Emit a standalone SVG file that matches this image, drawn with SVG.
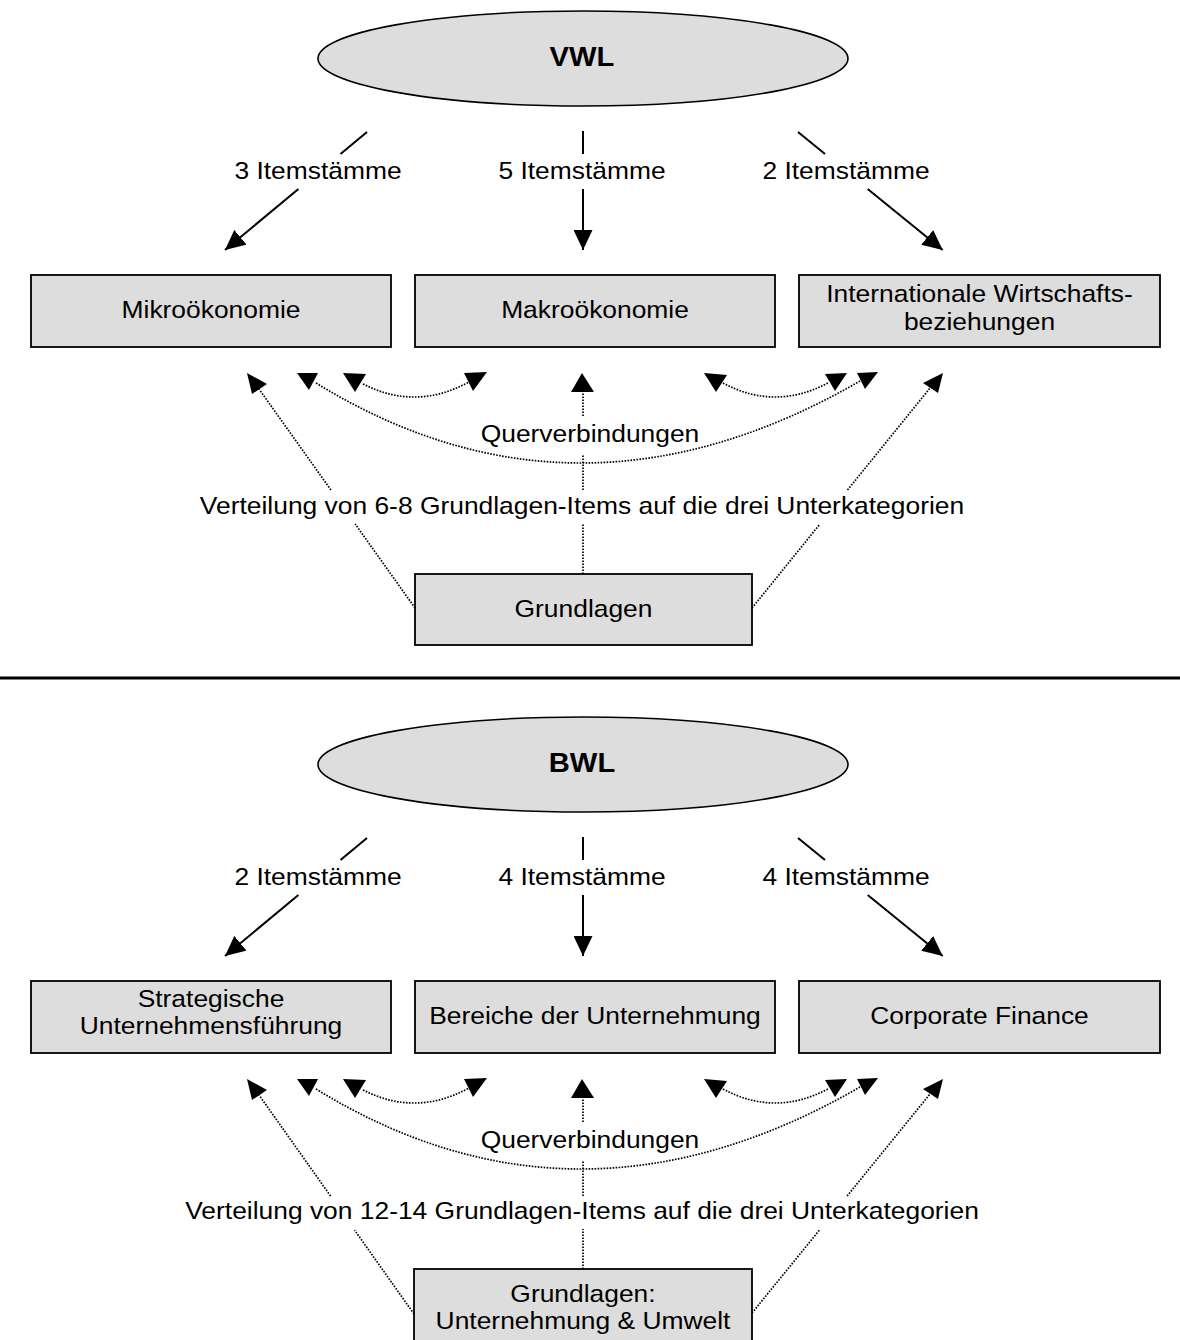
<svg xmlns="http://www.w3.org/2000/svg" width="1180" height="1340" viewBox="0 0 1180 1340">
<style>
.box{fill:#dddddd;stroke:#000;stroke-width:1.8}
.ell{fill:#dddddd;stroke:#000;stroke-width:1.6}
.t{font-family:"Liberation Sans",Arial,Helvetica,sans-serif;font-size:24px;fill:#000;text-anchor:middle}
.tb{font-family:"Liberation Sans",Arial,Helvetica,sans-serif;font-size:27px;font-weight:bold;fill:#000;text-anchor:middle}
.solid{stroke:#000;stroke-width:2;fill:none}
.dot{stroke:#000;stroke-width:1.7;stroke-dasharray:1.6 1.4;fill:none}
.head{fill:#000;stroke:none}
</style>
<defs>
<marker id="arr" markerUnits="userSpaceOnUse" markerWidth="21" markerHeight="19" refX="20" refY="9.5" orient="auto">
<path d="M0,0 L20,9.5 L0,19 Z" fill="#000"/>
</marker>
</defs>
<rect x="0" y="0" width="1180" height="1340" fill="#fff"/>

<!-- ===== VWL section ===== -->
<g id="vwl">
<ellipse class="ell" cx="583" cy="58.5" rx="265" ry="47.5"/>
<text class="tb" transform="translate(582,66) scale(1.08,1)">VWL</text>
</g>
<g id="mikro">
<rect class="box" x="31" y="275" width="360" height="72"/>
<text class="t" transform="translate(211,318) scale(1.1,1)">Mikroökonomie</text>
</g>
<g id="makro">
<rect class="box" x="415" y="275" width="360" height="72"/>
<text class="t" transform="translate(595,318) scale(1.1,1)">Makroökonomie</text>
</g>
<g id="intl">
<rect class="box" x="799" y="275" width="361" height="72"/>
<text class="t" transform="translate(979.5,302) scale(1.1,1)">Internationale Wirtschafts-</text>
<text class="t" transform="translate(979.5,330) scale(1.1,1)">beziehungen</text>
</g>
<g id="grundlagen-vwl">
<rect class="box" x="415" y="574" width="337" height="71"/>
<text class="t" transform="translate(583.5,617) scale(1.1,1)">Grundlagen</text>
</g>

<g id="connectors-vwl">
<line class="solid" x1="367" y1="132" x2="340.5" y2="154"/>
<line class="solid" x1="298.4" y1="189" x2="225" y2="250" marker-end="url(#arr)"/>
<line class="solid" x1="583" y1="131" x2="583" y2="154"/>
<line class="solid" x1="583" y1="189" x2="583" y2="250" marker-end="url(#arr)"/>
<line class="solid" x1="798" y1="132" x2="825" y2="154"/>
<line class="solid" x1="867.7" y1="189" x2="942.7" y2="250" marker-end="url(#arr)"/>

<line class="dot" x1="415" y1="608" x2="355.2" y2="524"/>
<line class="dot" x1="330.9" y1="490" x2="259" y2="389"/>
<line class="dot" x1="752" y1="608" x2="820" y2="524"/>
<line class="dot" x1="847.5" y1="490" x2="930" y2="388"/>
<line class="dot" x1="583" y1="574" x2="583" y2="523"/>
<line class="dot" x1="583" y1="490" x2="583" y2="455"/>
<line class="dot" x1="583" y1="416" x2="583" y2="392"/>
<path class="dot" d="M316,383 Q578,544 860,381"/>
<path class="dot" d="M363,384 Q416,411 469,382"/>
<path class="dot" d="M723,383 Q775,411 828,383"/>

<polygon class="head" points="247,373 252,394 267,384"/>
<polygon class="head" points="297,373 318,373 309,390"/>
<polygon class="head" points="343,373 366,374 355,392"/>
<polygon class="head" points="464,373 487,372 473,391"/>
<polygon class="head" points="582,373 571,392 594,392"/>
<polygon class="head" points="704,373 727,375 716,392"/>
<polygon class="head" points="825,374 847,373 835,391"/>
<polygon class="head" points="857,373 878,372 865,389"/>
<polygon class="head" points="943,373 923,383 938,393"/>

<text class="t" transform="translate(318,179) scale(1.1,1)">3 Itemstämme</text>
<text class="t" transform="translate(582,179) scale(1.1,1)">5 Itemstämme</text>
<text class="t" transform="translate(846,179) scale(1.1,1)">2 Itemstämme</text>
<text class="t" transform="translate(590,442) scale(1.1,1)">Querverbindungen</text>
<text class="t" transform="translate(582,514) scale(1.1,1)">Verteilung von 6-8 Grundlagen-Items auf die drei Unterkategorien</text>
</g>

<line x1="0" y1="678" x2="1180" y2="678" stroke="#000" stroke-width="3"/>

<!-- ===== BWL section ===== -->
<g id="bwl">
<ellipse class="ell" cx="583" cy="764.5" rx="265" ry="47.5"/>
<text class="tb" transform="translate(582,772) scale(1.08,1)">BWL</text>
</g>
<g id="strategisch">
<rect class="box" x="31" y="981" width="360" height="72"/>
<text class="t" transform="translate(211,1007) scale(1.1,1)">Strategische</text>
<text class="t" transform="translate(211,1034) scale(1.1,1)">Unternehmensführung</text>
</g>
<g id="bereiche">
<rect class="box" x="415" y="981" width="360" height="72"/>
<text class="t" transform="translate(595,1024) scale(1.1,1)">Bereiche der Unternehmung</text>
</g>
<g id="corporate">
<rect class="box" x="799" y="981" width="361" height="72"/>
<text class="t" transform="translate(979.5,1024) scale(1.1,1)">Corporate Finance</text>
</g>
<g id="grundlagen-bwl">
<rect class="box" x="414" y="1269" width="338" height="77"/>
<text class="t" transform="translate(583,1302) scale(1.1,1)">Grundlagen:</text>
<text class="t" transform="translate(583,1329) scale(1.1,1)">Unternehmung &amp; Umwelt</text>
</g>

<g id="connectors-bwl">
<line class="solid" x1="367" y1="838" x2="340.5" y2="860"/>
<line class="solid" x1="298.4" y1="895" x2="225" y2="956" marker-end="url(#arr)"/>
<line class="solid" x1="583" y1="837" x2="583" y2="860"/>
<line class="solid" x1="583" y1="895" x2="583" y2="956" marker-end="url(#arr)"/>
<line class="solid" x1="798" y1="838" x2="825" y2="860"/>
<line class="solid" x1="867.7" y1="895" x2="942.7" y2="956" marker-end="url(#arr)"/>

<line class="dot" x1="414" y1="1314" x2="354.5" y2="1230"/>
<line class="dot" x1="330.5" y1="1196" x2="259" y2="1095"/>
<line class="dot" x1="752" y1="1313" x2="819.5" y2="1230"/>
<line class="dot" x1="847.1" y1="1196" x2="930" y2="1094"/>
<line class="dot" x1="583" y1="1269" x2="583" y2="1229"/>
<line class="dot" x1="583" y1="1196" x2="583" y2="1161"/>
<line class="dot" x1="583" y1="1122" x2="583" y2="1098"/>
<path class="dot" d="M316,1089 Q578,1250 860,1087"/>
<path class="dot" d="M363,1090 Q416,1117 469,1088"/>
<path class="dot" d="M723,1089 Q775,1117 828,1089"/>

<polygon class="head" points="247,1079 252,1100 267,1090"/>
<polygon class="head" points="297,1079 318,1079 309,1096"/>
<polygon class="head" points="343,1079 366,1080 355,1098"/>
<polygon class="head" points="464,1079 487,1078 473,1097"/>
<polygon class="head" points="582,1079 571,1098 594,1098"/>
<polygon class="head" points="704,1079 727,1081 716,1098"/>
<polygon class="head" points="825,1080 847,1079 835,1097"/>
<polygon class="head" points="857,1079 878,1078 865,1095"/>
<polygon class="head" points="943,1079 923,1089 938,1099"/>

<text class="t" transform="translate(318,885) scale(1.1,1)">2 Itemstämme</text>
<text class="t" transform="translate(582,885) scale(1.1,1)">4 Itemstämme</text>
<text class="t" transform="translate(846,885) scale(1.1,1)">4 Itemstämme</text>
<text class="t" transform="translate(590,1148) scale(1.1,1)">Querverbindungen</text>
<text class="t" transform="translate(582,1219) scale(1.1,1)">Verteilung von 12-14 Grundlagen-Items auf die drei Unterkategorien</text>
</g>
</svg>
